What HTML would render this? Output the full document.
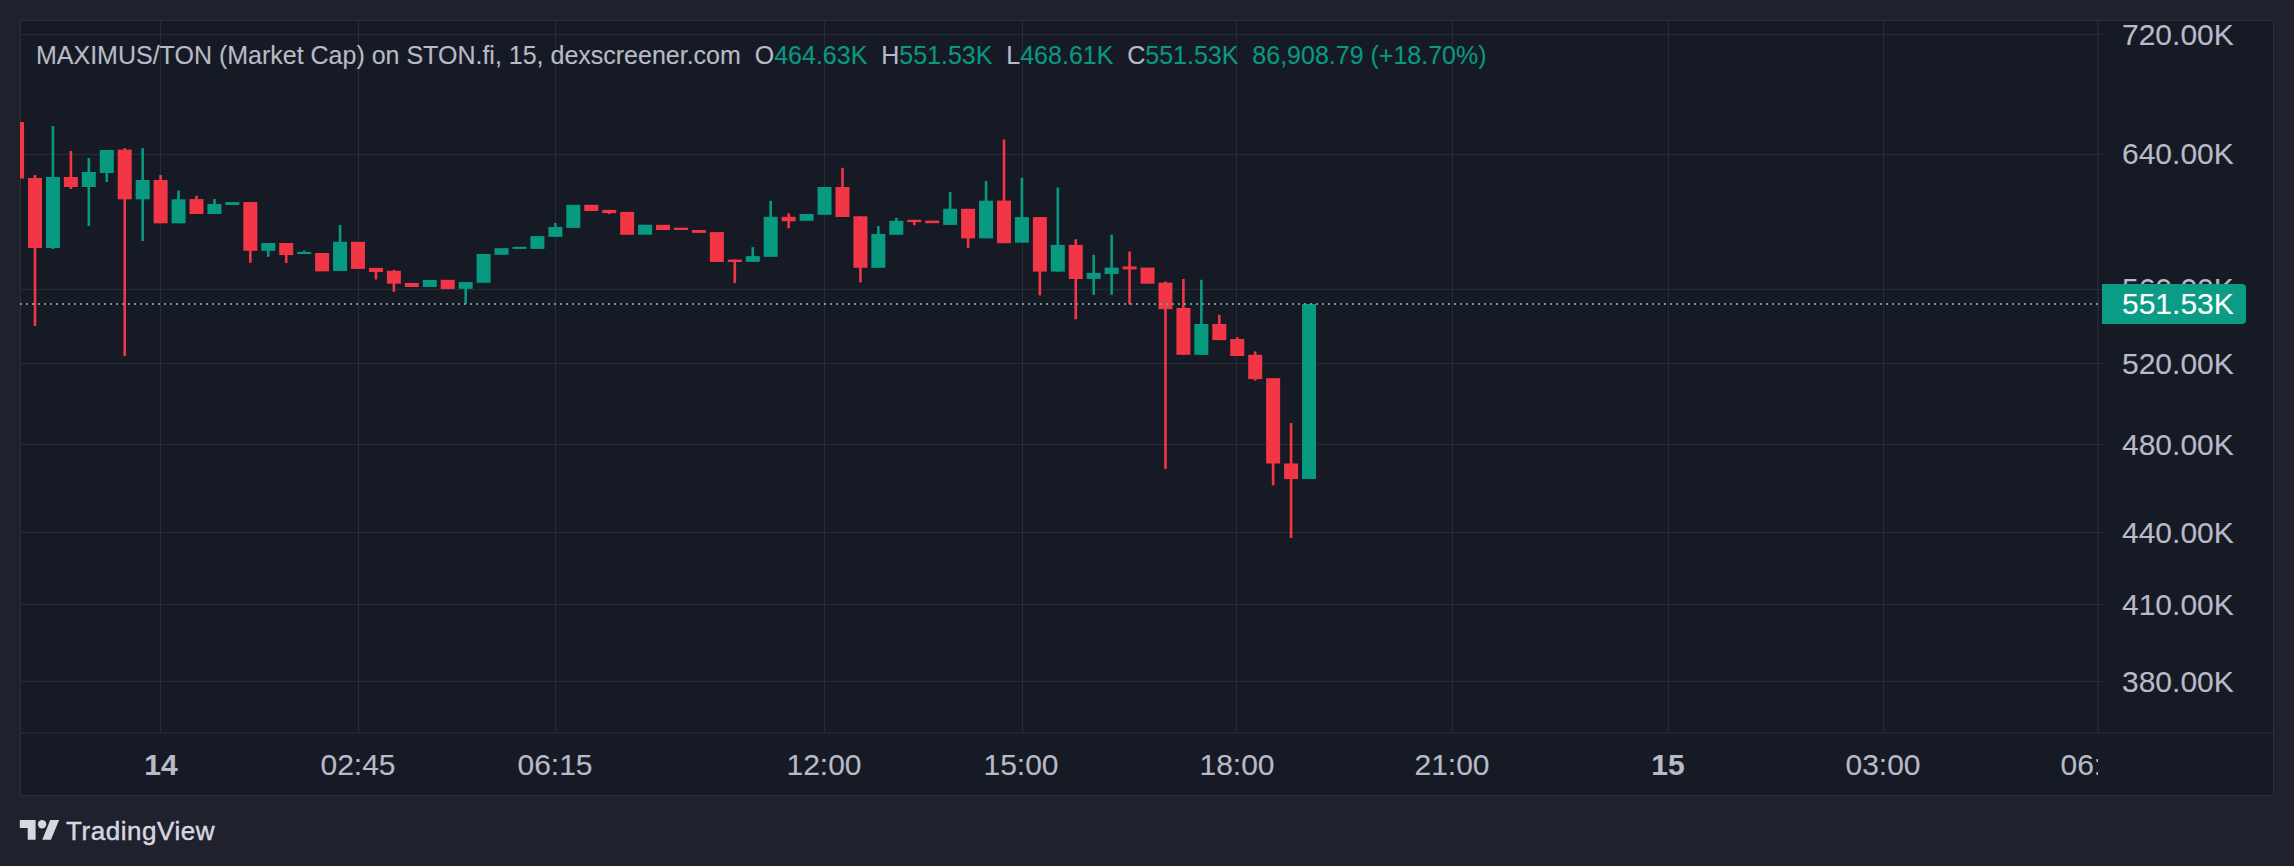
<!DOCTYPE html>
<html><head><meta charset="utf-8"><style>
html,body{margin:0;padding:0;}
body{width:2294px;height:866px;background:#1f222d;position:relative;overflow:hidden;font-family:"Liberation Sans",sans-serif;}
#frame{position:absolute;left:20px;top:20px;width:2252px;height:773px;border:1px solid #2b2f3a;border-radius:4px;background:#161a25;overflow:hidden;}
#svg{position:absolute;left:0;top:0;}
.pl{position:absolute;left:2122px;width:130px;height:34px;line-height:34px;font-size:30px;color:#b8bbc6;white-space:nowrap;-webkit-text-stroke:0.12px #b8bbc6;}
#tlwrap{position:absolute;left:0;top:733px;width:2098px;height:62px;overflow:hidden;}
.tl{position:absolute;top:1px;width:200px;height:62px;line-height:62px;text-align:center;font-size:30px;color:#b8bbc6;white-space:nowrap;-webkit-text-stroke:0.12px #b8bbc6;}
.tl.b{font-weight:bold;}
#legend{position:absolute;left:36px;top:40px;font-size:25px;line-height:30px;color:#b8bbc6;white-space:nowrap;-webkit-text-stroke:0.12px currentColor;}
#legend .g{color:#089981;}
#curlabel{position:absolute;left:2102px;top:284px;width:144px;height:40px;background:#0a9c84;border-radius:0 4px 4px 0;color:#fff;font-size:30px;line-height:40px;text-indent:20px;-webkit-text-stroke:0.12px #fff;}
#logo{position:absolute;left:20px;top:818px;height:24px;}
#logotext{position:absolute;left:66px;top:813px;font-size:26px;line-height:36px;letter-spacing:0.55px;color:#d6d8e0;-webkit-text-stroke:0.45px #d6d8e0;}
</style></head><body>
<svg id="svg" width="2294" height="866">
<rect x="20.5" y="20.5" width="2253" height="775" fill="#161a25" stroke="#2b2f3a" stroke-width="1"/>
<rect x="20" y="34" width="2082" height="1" fill="#282c37"/><rect x="20" y="154" width="2082" height="1" fill="#282c37"/><rect x="20" y="289" width="2082" height="1" fill="#282c37"/><rect x="20" y="363" width="2082" height="1" fill="#282c37"/><rect x="20" y="444" width="2082" height="1" fill="#282c37"/><rect x="20" y="532" width="2082" height="1" fill="#282c37"/><rect x="20" y="604" width="2082" height="1" fill="#282c37"/><rect x="20" y="681" width="2082" height="1" fill="#282c37"/><rect x="160" y="20" width="1" height="713" fill="#282c37"/><rect x="358" y="20" width="1" height="713" fill="#282c37"/><rect x="555" y="20" width="1" height="713" fill="#282c37"/><rect x="824" y="20" width="1" height="713" fill="#282c37"/><rect x="1022" y="20" width="1" height="713" fill="#282c37"/><rect x="1236" y="20" width="1" height="713" fill="#282c37"/><rect x="1452" y="20" width="1" height="713" fill="#282c37"/><rect x="1668" y="20" width="1" height="713" fill="#282c37"/><rect x="1883" y="20" width="1" height="713" fill="#282c37"/>
<rect x="2097.5" y="20" width="1" height="713" fill="#2b2f3a"/>
<rect x="20" y="732.5" width="2254" height="1" fill="#2b2f3a"/>
<svg x="20" y="20" width="2078" height="713" viewBox="20 20 2078 713" overflow="hidden">
<rect x="10.06" y="122" width="14" height="56.5" fill="#f23645"/><rect x="33.7" y="175" width="2.6" height="151" fill="#f23645"/><rect x="28" y="178" width="14" height="70" fill="#f23645"/><rect x="51.64" y="126" width="2.6" height="123" fill="#089981"/><rect x="45.94" y="177" width="14" height="71" fill="#089981"/><rect x="69.59" y="151" width="2.6" height="38" fill="#f23645"/><rect x="63.89" y="177" width="14" height="10" fill="#f23645"/><rect x="87.53" y="158" width="2.6" height="68" fill="#089981"/><rect x="81.83" y="172" width="14" height="15" fill="#089981"/><rect x="105.48" y="150" width="2.6" height="32" fill="#089981"/><rect x="99.78" y="150" width="14" height="23" fill="#089981"/><rect x="123.42" y="148.2" width="2.6" height="207.8" fill="#f23645"/><rect x="117.72" y="149.6" width="14" height="49.7" fill="#f23645"/><rect x="141.36" y="148.2" width="2.6" height="92.8" fill="#089981"/><rect x="135.66" y="180" width="14" height="19.3" fill="#089981"/><rect x="159.31" y="175" width="2.6" height="48.3" fill="#f23645"/><rect x="153.61" y="180" width="14" height="43.3" fill="#f23645"/><rect x="177.25" y="190.6" width="2.6" height="32.7" fill="#089981"/><rect x="171.55" y="199.3" width="14" height="24" fill="#089981"/><rect x="195.2" y="195.8" width="2.6" height="18.2" fill="#f23645"/><rect x="189.5" y="199.1" width="14" height="14.9" fill="#f23645"/><rect x="213.14" y="199" width="2.6" height="15" fill="#089981"/><rect x="207.44" y="203.9" width="14" height="10.1" fill="#089981"/><rect x="225.38" y="202.1" width="14" height="2.9" fill="#089981"/><rect x="249.03" y="202.1" width="2.6" height="60.7" fill="#f23645"/><rect x="243.33" y="202.1" width="14" height="48.7" fill="#f23645"/><rect x="266.97" y="243" width="2.6" height="13.8" fill="#089981"/><rect x="261.27" y="243" width="14" height="7.8" fill="#089981"/><rect x="284.92" y="243" width="2.6" height="20" fill="#f23645"/><rect x="279.22" y="243" width="14" height="12.1" fill="#f23645"/><rect x="302.86" y="250.6" width="2.6" height="3.4" fill="#089981"/><rect x="297.16" y="252" width="14" height="2" fill="#089981"/><rect x="315.1" y="253" width="14" height="18.4" fill="#f23645"/><rect x="338.75" y="225" width="2.6" height="46" fill="#089981"/><rect x="333.05" y="241.8" width="14" height="29.2" fill="#089981"/><rect x="350.99" y="241.8" width="14" height="27.1" fill="#f23645"/><rect x="374.64" y="267.9" width="2.6" height="11.5" fill="#f23645"/><rect x="368.94" y="267.9" width="14" height="4.1" fill="#f23645"/><rect x="392.58" y="269.9" width="2.6" height="21.9" fill="#f23645"/><rect x="386.88" y="270.8" width="14" height="12.9" fill="#f23645"/><rect x="404.82" y="282.9" width="14" height="4.1" fill="#f23645"/><rect x="422.77" y="280" width="14" height="7" fill="#089981"/><rect x="440.71" y="279.8" width="14" height="9.2" fill="#f23645"/><rect x="464.36" y="282.1" width="2.6" height="21.7" fill="#089981"/><rect x="458.66" y="282.1" width="14" height="6.7" fill="#089981"/><rect x="476.6" y="254" width="14" height="28.8" fill="#089981"/><rect x="494.54" y="248.2" width="14" height="6.6" fill="#089981"/><rect x="512.49" y="246.8" width="14" height="2.1" fill="#089981"/><rect x="530.43" y="236.1" width="14" height="12.8" fill="#089981"/><rect x="554.08" y="223" width="2.6" height="13.8" fill="#089981"/><rect x="548.38" y="227" width="14" height="9.8" fill="#089981"/><rect x="566.32" y="204.8" width="14" height="23.1" fill="#089981"/><rect x="584.26" y="204.8" width="14" height="6.2" fill="#f23645"/><rect x="607.91" y="209.9" width="2.6" height="4.1" fill="#f23645"/><rect x="602.21" y="209.9" width="14" height="3.2" fill="#f23645"/><rect x="620.15" y="211.9" width="14" height="22.9" fill="#f23645"/><rect x="638.1" y="224.7" width="14" height="10" fill="#089981"/><rect x="656.04" y="224.8" width="14" height="5.2" fill="#f23645"/><rect x="673.98" y="227.7" width="14" height="2.3" fill="#f23645"/><rect x="691.93" y="230" width="14" height="2.9" fill="#f23645"/><rect x="709.87" y="232.1" width="14" height="29.9" fill="#f23645"/><rect x="733.52" y="259.6" width="2.6" height="23.5" fill="#f23645"/><rect x="727.82" y="259.6" width="14" height="2.4" fill="#f23645"/><rect x="751.46" y="247.1" width="2.6" height="14.7" fill="#089981"/><rect x="745.76" y="256.1" width="14" height="5.7" fill="#089981"/><rect x="769.4" y="200.8" width="2.6" height="56" fill="#089981"/><rect x="763.7" y="216.8" width="14" height="40" fill="#089981"/><rect x="787.35" y="213.3" width="2.6" height="15" fill="#f23645"/><rect x="781.65" y="216.8" width="14" height="4.5" fill="#f23645"/><rect x="799.59" y="214" width="14" height="6.8" fill="#089981"/><rect x="817.54" y="187" width="14" height="27.8" fill="#089981"/><rect x="841.18" y="167.8" width="2.6" height="49.2" fill="#f23645"/><rect x="835.48" y="187" width="14" height="30" fill="#f23645"/><rect x="859.12" y="216.3" width="2.6" height="66.1" fill="#f23645"/><rect x="853.42" y="216.3" width="14" height="51.5" fill="#f23645"/><rect x="877.07" y="226" width="2.6" height="41.8" fill="#089981"/><rect x="871.37" y="233.9" width="14" height="33.9" fill="#089981"/><rect x="895.01" y="217.8" width="2.6" height="17" fill="#089981"/><rect x="889.31" y="220.8" width="14" height="14" fill="#089981"/><rect x="912.96" y="219.8" width="2.6" height="5.4" fill="#f23645"/><rect x="907.26" y="219.8" width="14" height="2.3" fill="#f23645"/><rect x="925.2" y="220.6" width="14" height="2.6" fill="#f23645"/><rect x="948.84" y="192" width="2.6" height="32.9" fill="#089981"/><rect x="943.14" y="208.8" width="14" height="16.1" fill="#089981"/><rect x="966.79" y="208.8" width="2.6" height="39" fill="#f23645"/><rect x="961.09" y="208.8" width="14" height="29.5" fill="#f23645"/><rect x="984.73" y="181.1" width="2.6" height="57.2" fill="#089981"/><rect x="979.03" y="200.7" width="14" height="37.6" fill="#089981"/><rect x="1002.68" y="139.5" width="2.6" height="103.7" fill="#f23645"/><rect x="996.98" y="200.6" width="14" height="42.6" fill="#f23645"/><rect x="1020.62" y="177.8" width="2.6" height="64.8" fill="#089981"/><rect x="1014.92" y="217.1" width="14" height="25.5" fill="#089981"/><rect x="1038.56" y="217.1" width="2.6" height="78.2" fill="#f23645"/><rect x="1032.86" y="217.1" width="14" height="54.5" fill="#f23645"/><rect x="1056.51" y="187.6" width="2.6" height="84" fill="#089981"/><rect x="1050.81" y="244.9" width="14" height="26.7" fill="#089981"/><rect x="1074.45" y="239.3" width="2.6" height="80" fill="#f23645"/><rect x="1068.75" y="244.9" width="14" height="34.1" fill="#f23645"/><rect x="1092.4" y="254.8" width="2.6" height="40" fill="#089981"/><rect x="1086.7" y="272.9" width="14" height="6" fill="#089981"/><rect x="1110.34" y="234.7" width="2.6" height="60.1" fill="#089981"/><rect x="1104.64" y="267.6" width="14" height="6.4" fill="#089981"/><rect x="1128.28" y="251.5" width="2.6" height="53" fill="#f23645"/><rect x="1122.58" y="266.4" width="14" height="3" fill="#f23645"/><rect x="1140.53" y="267.6" width="14" height="16.1" fill="#f23645"/><rect x="1164.17" y="281.5" width="2.6" height="187.5" fill="#f23645"/><rect x="1158.47" y="282.7" width="14" height="26.5" fill="#f23645"/><rect x="1182.12" y="279" width="2.6" height="75.8" fill="#f23645"/><rect x="1176.42" y="308" width="14" height="46.8" fill="#f23645"/><rect x="1200.06" y="279.8" width="2.6" height="75" fill="#089981"/><rect x="1194.36" y="324" width="14" height="30.8" fill="#089981"/><rect x="1218" y="314.8" width="2.6" height="25.3" fill="#f23645"/><rect x="1212.3" y="324" width="14" height="16.1" fill="#f23645"/><rect x="1235.95" y="337.2" width="2.6" height="18.8" fill="#f23645"/><rect x="1230.25" y="339" width="14" height="17" fill="#f23645"/><rect x="1253.89" y="351.4" width="2.6" height="29.2" fill="#f23645"/><rect x="1248.19" y="354.8" width="14" height="24.3" fill="#f23645"/><rect x="1271.84" y="378.2" width="2.6" height="107.2" fill="#f23645"/><rect x="1266.14" y="378.2" width="14" height="85.3" fill="#f23645"/><rect x="1289.78" y="423" width="2.6" height="115" fill="#f23645"/><rect x="1284.08" y="463.5" width="14" height="15.6" fill="#f23645"/><rect x="1302.02" y="304" width="14" height="175" fill="#089981"/>
</svg>
<g fill="#5f9e94"><rect x="20" y="303" width="2" height="2"/><rect x="26" y="303" width="2" height="2"/><rect x="32" y="303" width="2" height="2"/><rect x="38" y="303" width="2" height="2"/><rect x="44" y="303" width="2" height="2"/><rect x="50" y="303" width="2" height="2"/><rect x="56" y="303" width="2" height="2"/><rect x="62" y="303" width="2" height="2"/><rect x="68" y="303" width="2" height="2"/><rect x="74" y="303" width="2" height="2"/><rect x="80" y="303" width="2" height="2"/><rect x="86" y="303" width="2" height="2"/><rect x="92" y="303" width="2" height="2"/><rect x="98" y="303" width="2" height="2"/><rect x="104" y="303" width="2" height="2"/><rect x="110" y="303" width="2" height="2"/><rect x="116" y="303" width="2" height="2"/><rect x="122" y="303" width="2" height="2"/><rect x="128" y="303" width="2" height="2"/><rect x="134" y="303" width="2" height="2"/><rect x="140" y="303" width="2" height="2"/><rect x="146" y="303" width="2" height="2"/><rect x="152" y="303" width="2" height="2"/><rect x="158" y="303" width="2" height="2"/><rect x="164" y="303" width="2" height="2"/><rect x="170" y="303" width="2" height="2"/><rect x="176" y="303" width="2" height="2"/><rect x="182" y="303" width="2" height="2"/><rect x="188" y="303" width="2" height="2"/><rect x="194" y="303" width="2" height="2"/><rect x="200" y="303" width="2" height="2"/><rect x="206" y="303" width="2" height="2"/><rect x="212" y="303" width="2" height="2"/><rect x="218" y="303" width="2" height="2"/><rect x="224" y="303" width="2" height="2"/><rect x="230" y="303" width="2" height="2"/><rect x="236" y="303" width="2" height="2"/><rect x="242" y="303" width="2" height="2"/><rect x="248" y="303" width="2" height="2"/><rect x="254" y="303" width="2" height="2"/><rect x="260" y="303" width="2" height="2"/><rect x="266" y="303" width="2" height="2"/><rect x="272" y="303" width="2" height="2"/><rect x="278" y="303" width="2" height="2"/><rect x="284" y="303" width="2" height="2"/><rect x="290" y="303" width="2" height="2"/><rect x="296" y="303" width="2" height="2"/><rect x="302" y="303" width="2" height="2"/><rect x="308" y="303" width="2" height="2"/><rect x="314" y="303" width="2" height="2"/><rect x="320" y="303" width="2" height="2"/><rect x="326" y="303" width="2" height="2"/><rect x="332" y="303" width="2" height="2"/><rect x="338" y="303" width="2" height="2"/><rect x="344" y="303" width="2" height="2"/><rect x="350" y="303" width="2" height="2"/><rect x="356" y="303" width="2" height="2"/><rect x="362" y="303" width="2" height="2"/><rect x="368" y="303" width="2" height="2"/><rect x="374" y="303" width="2" height="2"/><rect x="380" y="303" width="2" height="2"/><rect x="386" y="303" width="2" height="2"/><rect x="392" y="303" width="2" height="2"/><rect x="398" y="303" width="2" height="2"/><rect x="404" y="303" width="2" height="2"/><rect x="410" y="303" width="2" height="2"/><rect x="416" y="303" width="2" height="2"/><rect x="422" y="303" width="2" height="2"/><rect x="428" y="303" width="2" height="2"/><rect x="434" y="303" width="2" height="2"/><rect x="440" y="303" width="2" height="2"/><rect x="446" y="303" width="2" height="2"/><rect x="452" y="303" width="2" height="2"/><rect x="458" y="303" width="2" height="2"/><rect x="464" y="303" width="2" height="2"/><rect x="470" y="303" width="2" height="2"/><rect x="476" y="303" width="2" height="2"/><rect x="482" y="303" width="2" height="2"/><rect x="488" y="303" width="2" height="2"/><rect x="494" y="303" width="2" height="2"/><rect x="500" y="303" width="2" height="2"/><rect x="506" y="303" width="2" height="2"/><rect x="512" y="303" width="2" height="2"/><rect x="518" y="303" width="2" height="2"/><rect x="524" y="303" width="2" height="2"/><rect x="530" y="303" width="2" height="2"/><rect x="536" y="303" width="2" height="2"/><rect x="542" y="303" width="2" height="2"/><rect x="548" y="303" width="2" height="2"/><rect x="554" y="303" width="2" height="2"/><rect x="560" y="303" width="2" height="2"/><rect x="566" y="303" width="2" height="2"/><rect x="572" y="303" width="2" height="2"/><rect x="578" y="303" width="2" height="2"/><rect x="584" y="303" width="2" height="2"/><rect x="590" y="303" width="2" height="2"/><rect x="596" y="303" width="2" height="2"/><rect x="602" y="303" width="2" height="2"/><rect x="608" y="303" width="2" height="2"/><rect x="614" y="303" width="2" height="2"/><rect x="620" y="303" width="2" height="2"/><rect x="626" y="303" width="2" height="2"/><rect x="632" y="303" width="2" height="2"/><rect x="638" y="303" width="2" height="2"/><rect x="644" y="303" width="2" height="2"/><rect x="650" y="303" width="2" height="2"/><rect x="656" y="303" width="2" height="2"/><rect x="662" y="303" width="2" height="2"/><rect x="668" y="303" width="2" height="2"/><rect x="674" y="303" width="2" height="2"/><rect x="680" y="303" width="2" height="2"/><rect x="686" y="303" width="2" height="2"/><rect x="692" y="303" width="2" height="2"/><rect x="698" y="303" width="2" height="2"/><rect x="704" y="303" width="2" height="2"/><rect x="710" y="303" width="2" height="2"/><rect x="716" y="303" width="2" height="2"/><rect x="722" y="303" width="2" height="2"/><rect x="728" y="303" width="2" height="2"/><rect x="734" y="303" width="2" height="2"/><rect x="740" y="303" width="2" height="2"/><rect x="746" y="303" width="2" height="2"/><rect x="752" y="303" width="2" height="2"/><rect x="758" y="303" width="2" height="2"/><rect x="764" y="303" width="2" height="2"/><rect x="770" y="303" width="2" height="2"/><rect x="776" y="303" width="2" height="2"/><rect x="782" y="303" width="2" height="2"/><rect x="788" y="303" width="2" height="2"/><rect x="794" y="303" width="2" height="2"/><rect x="800" y="303" width="2" height="2"/><rect x="806" y="303" width="2" height="2"/><rect x="812" y="303" width="2" height="2"/><rect x="818" y="303" width="2" height="2"/><rect x="824" y="303" width="2" height="2"/><rect x="830" y="303" width="2" height="2"/><rect x="836" y="303" width="2" height="2"/><rect x="842" y="303" width="2" height="2"/><rect x="848" y="303" width="2" height="2"/><rect x="854" y="303" width="2" height="2"/><rect x="860" y="303" width="2" height="2"/><rect x="866" y="303" width="2" height="2"/><rect x="872" y="303" width="2" height="2"/><rect x="878" y="303" width="2" height="2"/><rect x="884" y="303" width="2" height="2"/><rect x="890" y="303" width="2" height="2"/><rect x="896" y="303" width="2" height="2"/><rect x="902" y="303" width="2" height="2"/><rect x="908" y="303" width="2" height="2"/><rect x="914" y="303" width="2" height="2"/><rect x="920" y="303" width="2" height="2"/><rect x="926" y="303" width="2" height="2"/><rect x="932" y="303" width="2" height="2"/><rect x="938" y="303" width="2" height="2"/><rect x="944" y="303" width="2" height="2"/><rect x="950" y="303" width="2" height="2"/><rect x="956" y="303" width="2" height="2"/><rect x="962" y="303" width="2" height="2"/><rect x="968" y="303" width="2" height="2"/><rect x="974" y="303" width="2" height="2"/><rect x="980" y="303" width="2" height="2"/><rect x="986" y="303" width="2" height="2"/><rect x="992" y="303" width="2" height="2"/><rect x="998" y="303" width="2" height="2"/><rect x="1004" y="303" width="2" height="2"/><rect x="1010" y="303" width="2" height="2"/><rect x="1016" y="303" width="2" height="2"/><rect x="1022" y="303" width="2" height="2"/><rect x="1028" y="303" width="2" height="2"/><rect x="1034" y="303" width="2" height="2"/><rect x="1040" y="303" width="2" height="2"/><rect x="1046" y="303" width="2" height="2"/><rect x="1052" y="303" width="2" height="2"/><rect x="1058" y="303" width="2" height="2"/><rect x="1064" y="303" width="2" height="2"/><rect x="1070" y="303" width="2" height="2"/><rect x="1076" y="303" width="2" height="2"/><rect x="1082" y="303" width="2" height="2"/><rect x="1088" y="303" width="2" height="2"/><rect x="1094" y="303" width="2" height="2"/><rect x="1100" y="303" width="2" height="2"/><rect x="1106" y="303" width="2" height="2"/><rect x="1112" y="303" width="2" height="2"/><rect x="1118" y="303" width="2" height="2"/><rect x="1124" y="303" width="2" height="2"/><rect x="1130" y="303" width="2" height="2"/><rect x="1136" y="303" width="2" height="2"/><rect x="1142" y="303" width="2" height="2"/><rect x="1148" y="303" width="2" height="2"/><rect x="1154" y="303" width="2" height="2"/><rect x="1160" y="303" width="2" height="2"/><rect x="1166" y="303" width="2" height="2"/><rect x="1172" y="303" width="2" height="2"/><rect x="1178" y="303" width="2" height="2"/><rect x="1184" y="303" width="2" height="2"/><rect x="1190" y="303" width="2" height="2"/><rect x="1196" y="303" width="2" height="2"/><rect x="1202" y="303" width="2" height="2"/><rect x="1208" y="303" width="2" height="2"/><rect x="1214" y="303" width="2" height="2"/><rect x="1220" y="303" width="2" height="2"/><rect x="1226" y="303" width="2" height="2"/><rect x="1232" y="303" width="2" height="2"/><rect x="1238" y="303" width="2" height="2"/><rect x="1244" y="303" width="2" height="2"/><rect x="1250" y="303" width="2" height="2"/><rect x="1256" y="303" width="2" height="2"/><rect x="1262" y="303" width="2" height="2"/><rect x="1268" y="303" width="2" height="2"/><rect x="1274" y="303" width="2" height="2"/><rect x="1280" y="303" width="2" height="2"/><rect x="1286" y="303" width="2" height="2"/><rect x="1292" y="303" width="2" height="2"/><rect x="1298" y="303" width="2" height="2"/><rect x="1304" y="303" width="2" height="2"/><rect x="1310" y="303" width="2" height="2"/><rect x="1316" y="303" width="2" height="2"/><rect x="1322" y="303" width="2" height="2"/><rect x="1328" y="303" width="2" height="2"/><rect x="1334" y="303" width="2" height="2"/><rect x="1340" y="303" width="2" height="2"/><rect x="1346" y="303" width="2" height="2"/><rect x="1352" y="303" width="2" height="2"/><rect x="1358" y="303" width="2" height="2"/><rect x="1364" y="303" width="2" height="2"/><rect x="1370" y="303" width="2" height="2"/><rect x="1376" y="303" width="2" height="2"/><rect x="1382" y="303" width="2" height="2"/><rect x="1388" y="303" width="2" height="2"/><rect x="1394" y="303" width="2" height="2"/><rect x="1400" y="303" width="2" height="2"/><rect x="1406" y="303" width="2" height="2"/><rect x="1412" y="303" width="2" height="2"/><rect x="1418" y="303" width="2" height="2"/><rect x="1424" y="303" width="2" height="2"/><rect x="1430" y="303" width="2" height="2"/><rect x="1436" y="303" width="2" height="2"/><rect x="1442" y="303" width="2" height="2"/><rect x="1448" y="303" width="2" height="2"/><rect x="1454" y="303" width="2" height="2"/><rect x="1460" y="303" width="2" height="2"/><rect x="1466" y="303" width="2" height="2"/><rect x="1472" y="303" width="2" height="2"/><rect x="1478" y="303" width="2" height="2"/><rect x="1484" y="303" width="2" height="2"/><rect x="1490" y="303" width="2" height="2"/><rect x="1496" y="303" width="2" height="2"/><rect x="1502" y="303" width="2" height="2"/><rect x="1508" y="303" width="2" height="2"/><rect x="1514" y="303" width="2" height="2"/><rect x="1520" y="303" width="2" height="2"/><rect x="1526" y="303" width="2" height="2"/><rect x="1532" y="303" width="2" height="2"/><rect x="1538" y="303" width="2" height="2"/><rect x="1544" y="303" width="2" height="2"/><rect x="1550" y="303" width="2" height="2"/><rect x="1556" y="303" width="2" height="2"/><rect x="1562" y="303" width="2" height="2"/><rect x="1568" y="303" width="2" height="2"/><rect x="1574" y="303" width="2" height="2"/><rect x="1580" y="303" width="2" height="2"/><rect x="1586" y="303" width="2" height="2"/><rect x="1592" y="303" width="2" height="2"/><rect x="1598" y="303" width="2" height="2"/><rect x="1604" y="303" width="2" height="2"/><rect x="1610" y="303" width="2" height="2"/><rect x="1616" y="303" width="2" height="2"/><rect x="1622" y="303" width="2" height="2"/><rect x="1628" y="303" width="2" height="2"/><rect x="1634" y="303" width="2" height="2"/><rect x="1640" y="303" width="2" height="2"/><rect x="1646" y="303" width="2" height="2"/><rect x="1652" y="303" width="2" height="2"/><rect x="1658" y="303" width="2" height="2"/><rect x="1664" y="303" width="2" height="2"/><rect x="1670" y="303" width="2" height="2"/><rect x="1676" y="303" width="2" height="2"/><rect x="1682" y="303" width="2" height="2"/><rect x="1688" y="303" width="2" height="2"/><rect x="1694" y="303" width="2" height="2"/><rect x="1700" y="303" width="2" height="2"/><rect x="1706" y="303" width="2" height="2"/><rect x="1712" y="303" width="2" height="2"/><rect x="1718" y="303" width="2" height="2"/><rect x="1724" y="303" width="2" height="2"/><rect x="1730" y="303" width="2" height="2"/><rect x="1736" y="303" width="2" height="2"/><rect x="1742" y="303" width="2" height="2"/><rect x="1748" y="303" width="2" height="2"/><rect x="1754" y="303" width="2" height="2"/><rect x="1760" y="303" width="2" height="2"/><rect x="1766" y="303" width="2" height="2"/><rect x="1772" y="303" width="2" height="2"/><rect x="1778" y="303" width="2" height="2"/><rect x="1784" y="303" width="2" height="2"/><rect x="1790" y="303" width="2" height="2"/><rect x="1796" y="303" width="2" height="2"/><rect x="1802" y="303" width="2" height="2"/><rect x="1808" y="303" width="2" height="2"/><rect x="1814" y="303" width="2" height="2"/><rect x="1820" y="303" width="2" height="2"/><rect x="1826" y="303" width="2" height="2"/><rect x="1832" y="303" width="2" height="2"/><rect x="1838" y="303" width="2" height="2"/><rect x="1844" y="303" width="2" height="2"/><rect x="1850" y="303" width="2" height="2"/><rect x="1856" y="303" width="2" height="2"/><rect x="1862" y="303" width="2" height="2"/><rect x="1868" y="303" width="2" height="2"/><rect x="1874" y="303" width="2" height="2"/><rect x="1880" y="303" width="2" height="2"/><rect x="1886" y="303" width="2" height="2"/><rect x="1892" y="303" width="2" height="2"/><rect x="1898" y="303" width="2" height="2"/><rect x="1904" y="303" width="2" height="2"/><rect x="1910" y="303" width="2" height="2"/><rect x="1916" y="303" width="2" height="2"/><rect x="1922" y="303" width="2" height="2"/><rect x="1928" y="303" width="2" height="2"/><rect x="1934" y="303" width="2" height="2"/><rect x="1940" y="303" width="2" height="2"/><rect x="1946" y="303" width="2" height="2"/><rect x="1952" y="303" width="2" height="2"/><rect x="1958" y="303" width="2" height="2"/><rect x="1964" y="303" width="2" height="2"/><rect x="1970" y="303" width="2" height="2"/><rect x="1976" y="303" width="2" height="2"/><rect x="1982" y="303" width="2" height="2"/><rect x="1988" y="303" width="2" height="2"/><rect x="1994" y="303" width="2" height="2"/><rect x="2000" y="303" width="2" height="2"/><rect x="2006" y="303" width="2" height="2"/><rect x="2012" y="303" width="2" height="2"/><rect x="2018" y="303" width="2" height="2"/><rect x="2024" y="303" width="2" height="2"/><rect x="2030" y="303" width="2" height="2"/><rect x="2036" y="303" width="2" height="2"/><rect x="2042" y="303" width="2" height="2"/><rect x="2048" y="303" width="2" height="2"/><rect x="2054" y="303" width="2" height="2"/><rect x="2060" y="303" width="2" height="2"/><rect x="2066" y="303" width="2" height="2"/><rect x="2072" y="303" width="2" height="2"/><rect x="2078" y="303" width="2" height="2"/><rect x="2084" y="303" width="2" height="2"/><rect x="2090" y="303" width="2" height="2"/><rect x="2096" y="303" width="2" height="2"/></g>
</svg>
<div id="legend">MAXIMUS/TON (Market Cap) on STON.fi, 15, dexscreener.com&nbsp;&nbsp;O<span class="g">464.63K</span>&nbsp;&nbsp;H<span class="g">551.53K</span>&nbsp;&nbsp;L<span class="g">468.61K</span>&nbsp;&nbsp;C<span class="g">551.53K</span>&nbsp;&nbsp;<span class="g">86,908.79 (+18.70%)</span></div>
<div class="pl" style="top:18px">720.00K</div><div class="pl" style="top:137px">640.00K</div><div class="pl" style="top:272px">560.00K</div><div class="pl" style="top:347px">520.00K</div><div class="pl" style="top:428px">480.00K</div><div class="pl" style="top:516px">440.00K</div><div class="pl" style="top:587.5px">410.00K</div><div class="pl" style="top:665px">380.00K</div>
<div id="tlwrap" style="left:20px;top:733px;width:2078px;"><div style="position:absolute;left:-20px;top:0;width:2298px;height:62px;"><div class="tl b" style="left:61px">14</div><div class="tl" style="left:258px">02:45</div><div class="tl" style="left:455px">06:15</div><div class="tl" style="left:724px">12:00</div><div class="tl" style="left:921px">15:00</div><div class="tl" style="left:1137px">18:00</div><div class="tl" style="left:1352px">21:00</div><div class="tl b" style="left:1568px">15</div><div class="tl" style="left:1783px">03:00</div><div class="tl" style="left:1998px">06:00</div></div></div>
<div id="curlabel">551.53K</div>
<svg width="2294" height="866" style="position:absolute;left:0;top:0"><g fill="#d6d8e0"><path d="M19.8 820H35.6V839.7H27.7V828H19.8Z"/><circle cx="42.1" cy="824.3" r="4.2"/><path d="M50.2 820H59.1L51 839.7H42.3Z"/></g></svg>
<div id="logotext">TradingView</div>
</body></html>
